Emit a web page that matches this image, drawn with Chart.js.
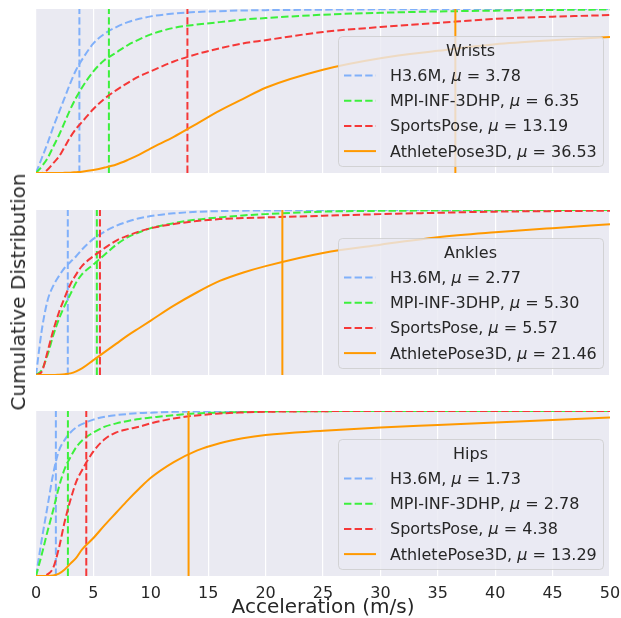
<!DOCTYPE html>
<html>
<head>
<meta charset="utf-8">
<script src="https://cdn.jsdelivr.net/npm/chart.js@4.4.1/dist/chart.umd.min.js"></script>
<style>
  body { margin: 0; background: #fff; }
  #wrap { position: relative; width: 621px; height: 618px; }
  canvas { position: absolute; left: 0; }
  #ylab {
    position: absolute; left: 18px; top: 292px;
    transform: translate(-50%, -50%) rotate(-90deg);
    font: 20px 'DejaVu Sans'; color: #262626; white-space: nowrap;
  }
</style>
</head>
<body>
<div id="wrap">
  <canvas id="c1" width="621" height="176" style="top:0px"></canvas>
  <canvas id="c2" width="621" height="180" style="top:200px"></canvas>
  <canvas id="c3" width="621" height="218" style="top:400px"></canvas>
  <div id="ylab">Cumulative Distribution</div>
</div>
<script>
// acceleration grid (m/s) at which the CDFs were read
var accel = [0, 0.5, 1, 1.5, 2, 2.5, 3, 3.5, 4, 5, 6, 7, 8, 9, 10, 12, 14, 16, 18, 20, 25, 30, 35, 40, 45, 50];

var datasetNames = ['H3.6M', 'MPI-INF-3DHP', 'SportsPose', 'AthletePose3D'];
var colors = ['rgb(128,176,250)', 'rgb(60,240,60)', 'rgb(245,55,55)', 'rgb(255,153,0)'];

// Wrists
var wristsMean = [3.78, 6.35, 13.19, 36.53];
var wristsH36m = [0, 0.09, 0.18, 0.28, 0.37, 0.46, 0.55, 0.63, 0.69, 0.79, 0.85, 0.89, 0.92, 0.94, 0.955, 0.972, 0.982, 0.987, 0.991, 0.993, 0.996, 0.998, 0.999, 1, 1, 1];
var wristsMpi  = [0, 0.04, 0.09, 0.16, 0.23, 0.31, 0.39, 0.46, 0.52, 0.62, 0.69, 0.735, 0.78, 0.815, 0.845, 0.885, 0.905, 0.92, 0.935, 0.945, 0.965, 0.977, 0.985, 0.99, 0.994, 0.997];
var wristsSports = [0, 0, 0.02, 0.06, 0.10, 0.16, 0.22, 0.27, 0.31, 0.39, 0.455, 0.505, 0.55, 0.59, 0.62, 0.68, 0.725, 0.76, 0.79, 0.81, 0.86, 0.89, 0.915, 0.94, 0.953, 0.963];
var wristsAthlete = [0, 0, 0, 0, 0, 0.001, 0.002, 0.005, 0.008, 0.018, 0.033, 0.052, 0.08, 0.112, 0.15, 0.22, 0.30, 0.38, 0.45, 0.52, 0.63, 0.70, 0.745, 0.785, 0.81, 0.83];

// Ankles
var anklesMean = [2.77, 5.30, 5.57, 21.46];
var anklesH36m = [0, 0.27, 0.45, 0.54, 0.60, 0.65, 0.685, 0.72, 0.76, 0.825, 0.87, 0.905, 0.93, 0.95, 0.963, 0.98, 0.989, 0.993, 0.996, 0.997, 0.999, 1, 1, 1, 1, 1];
var anklesMpi  = [0, 0.03, 0.12, 0.24, 0.34, 0.42, 0.49, 0.56, 0.61, 0.67, 0.73, 0.79, 0.835, 0.865, 0.89, 0.92, 0.942, 0.955, 0.967, 0.975, 0.99, 0.995, 0.997, 0.999, 1, 1];
var anklesSports = [0, 0.02, 0.14, 0.27, 0.38, 0.47, 0.55, 0.61, 0.66, 0.72, 0.77, 0.815, 0.845, 0.87, 0.89, 0.915, 0.933, 0.945, 0.951, 0.955, 0.965, 0.975, 0.983, 0.99, 0.993, 0.996];
var anklesAthlete = [0, 0, 0, 0, 0.002, 0.005, 0.01, 0.022, 0.04, 0.09, 0.14, 0.19, 0.24, 0.285, 0.33, 0.42, 0.50, 0.57, 0.62, 0.66, 0.74, 0.79, 0.835, 0.865, 0.89, 0.913];

// Hips
var hipsMean = [1.73, 2.78, 4.38, 13.29];
var hipsH36m = [0, 0.22, 0.42, 0.62, 0.76, 0.825, 0.87, 0.90, 0.92, 0.948, 0.965, 0.975, 0.982, 0.987, 0.99, 0.995, 0.997, 0.998, 0.999, 1, 1, 1, 1, 1, 1, 1];
var hipsMpi  = [0, 0.13, 0.27, 0.40, 0.54, 0.65, 0.72, 0.78, 0.82, 0.87, 0.905, 0.925, 0.94, 0.952, 0.96, 0.975, 0.985, 0.99, 0.994, 0.997, 0.999, 1, 1, 1, 1, 1];
var hipsSports = [0, 0, 0.01, 0.05, 0.17, 0.33, 0.46, 0.57, 0.64, 0.755, 0.83, 0.87, 0.89, 0.905, 0.925, 0.955, 0.973, 0.985, 0.991, 0.995, 0.999, 1, 1, 1, 1, 1];
var hipsAthlete = [0, 0, 0, 0.003, 0.015, 0.04, 0.075, 0.11, 0.16, 0.23, 0.31, 0.385, 0.46, 0.53, 0.595, 0.69, 0.76, 0.805, 0.835, 0.855, 0.88, 0.90, 0.915, 0.93, 0.945, 0.96];

var xTicks = [0, 5, 10, 15, 20, 25, 30, 35, 40, 45, 50];

Chart.defaults.font.family = 'DejaVu Sans';
Chart.defaults.color = '#262626';

var TXT = '#262626';
var DASH = [7.4, 3.2];

// grey plot background
var bgPlugin = {
  id: 'plotBg',
  beforeDraw: function (chart) {
    var a = chart.chartArea, ctx = chart.ctx;
    ctx.save();
    ctx.fillStyle = '#EAEAF2';
    ctx.fillRect(a.left, a.top, a.right - a.left, a.bottom - a.top);
    ctx.restore();
  }
};

// matplotlib style legend box in the lower right corner
var boxLegend = {
  id: 'boxLegend',
  afterDatasetsDraw: function (chart, args, opts) {
    var a = chart.chartArea, ctx = chart.ctx;
    var w = 265, h = 130;
    var x = a.right - 7 - w, y = a.bottom - 7 - h;
    ctx.save();
    ctx.beginPath();
    ctx.roundRect(x + 0.5, y + 0.5, w, h, 4);
    ctx.fillStyle = 'rgba(234,234,242,0.8)';
    ctx.fill();
    ctx.strokeStyle = 'rgba(204,204,204,0.8)';
    ctx.lineWidth = 1;
    ctx.stroke();

    ctx.fillStyle = TXT;
    ctx.textBaseline = 'alphabetic';
    ctx.textAlign = 'center';
    ctx.font = '16px "DejaVu Sans"';
    ctx.fillText(opts.title, x + w / 2, y + 20);

    ctx.textAlign = 'left';
    for (var i = 0; i < datasetNames.length; i++) {
      var by = y + 45 + i * 25.2;
      ctx.beginPath();
      ctx.strokeStyle = colors[i];
      ctx.lineWidth = 2;
      ctx.setLineDash(i < 3 ? DASH : []);
      ctx.moveTo(x + 6, by - 5.5);
      ctx.lineTo(x + 38, by - 5.5);
      ctx.stroke();
      ctx.setLineDash([]);

      var tx = x + 52;
      var s1 = datasetNames[i] + ', ';
      ctx.font = '16px "DejaVu Sans"';
      ctx.fillText(s1, tx, by);
      tx += ctx.measureText(s1).width;
      ctx.font = 'italic 16px "DejaVu Sans"';
      ctx.fillText('\u03bc', tx, by);
      tx += ctx.measureText('\u03bc').width;
      ctx.font = '16px "DejaVu Sans"';
      ctx.fillText(' = ' + opts.means[i].toFixed(2), tx, by);
    }
    ctx.restore();
  }
};

function makePanel(id, title, means, curves, padTop, padBottom, bottomAxis) {
  var datasets = [];
  for (var i = 0; i < curves.length; i++) {
    var pts = accel.map(function (v, k) { return { x: v, y: curves[i][k] }; });
    datasets.push({
      data: pts,
      borderColor: colors[i],
      borderWidth: 2,
      borderDash: i < 3 ? DASH : [],
      pointRadius: 0,
      cubicInterpolationMode: 'monotone',
      clip: 0,
      order: 10 - 2 * i
    });
    // mean marker
    datasets.push({
      data: [{ x: means[i], y: 0 }, { x: means[i], y: 1 }],
      borderColor: colors[i],
      borderWidth: 2,
      borderDash: i < 3 ? DASH : [],
      pointRadius: 0,
      clip: 0,
      order: 9 - 2 * i
    });
  }

  return new Chart(document.getElementById(id), {
    type: 'line',
    data: { datasets: datasets },
    options: {
      responsive: false,
      animation: false,
      devicePixelRatio: 1,
      layout: { padding: { left: 36, right: 11, top: padTop, bottom: padBottom } },
      plugins: {
        legend: { display: false },
        tooltip: { enabled: false },
        boxLegend: { title: title, means: means }
      },
      scales: {
        x: {
          type: 'linear',
          min: 0, max: 50,
          afterBuildTicks: function (s) { s.ticks = xTicks.map(function (v) { return { value: v }; }); },
          grid: { color: '#ffffff', lineWidth: 1.2, drawTicks: false },
          border: { display: false },
          ticks: { display: bottomAxis, padding: 8, color: TXT, font: { size: 16 } },
          title: {
            display: bottomAxis,
            text: 'Acceleration (m/s)',
            color: TXT,
            font: { size: 20 },
            padding: { top: 0, bottom: -2 }
          },
          afterFit: function (s) {
            s.height = bottomAxis ? 42 : 0;
            s.paddingLeft = 0;
            s.paddingRight = 0;
          }
        },
        y: { display: false, min: 0, max: 1 }
      }
    },
    plugins: [bgPlugin, boxLegend]
  });
}

makePanel('c1', 'Wrists', wristsMean, [wristsH36m, wristsMpi, wristsSports, wristsAthlete], 9, 3, false);
makePanel('c2', 'Ankles', anklesMean, [anklesH36m, anklesMpi, anklesSports, anklesAthlete], 10, 5, false);
makePanel('c3', 'Hips', hipsMean, [hipsH36m, hipsMpi, hipsSports, hipsAthlete], 11, 0, true);
</script>
</body>
</html>
